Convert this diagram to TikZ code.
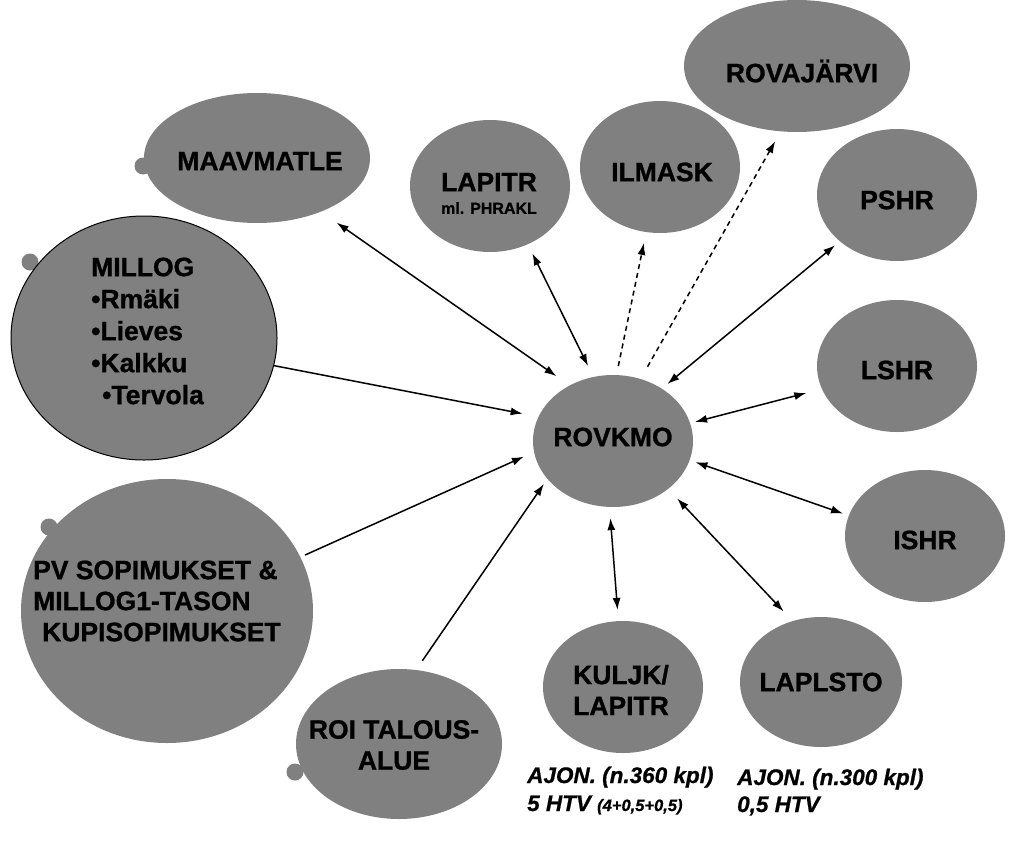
\documentclass[tikz,border=0pt]{standalone}
\usepackage{fontspec}
\setmainfont{Liberation Sans}[BoldFeatures={FakeBold=1.0},BoldItalicFeatures={FakeBold=0.8}]
\usetikzlibrary{shapes.geometric,arrows.meta}
\definecolor{blobgray}{RGB}{128,128,128}
\begin{document}
\begin{tikzpicture}[x=1pt,y=-1pt,
  blob/.style={ellipse, fill=blobgray, inner sep=0pt},
  bump/.style={circle, fill=blobgray, inner sep=0pt, minimum size=17pt},
  lbl/.style={inner sep=0pt, align=center, font=\bfseries\fontsize{26.5}{31}\selectfont},
  note/.style={inner sep=0pt, anchor=base west, font=\bfseries\itshape\fontsize{22.5}{26}\selectfont},
  conn/.style={line width=1.5pt, black},
  oneway/.style={conn, -{Latex[length=12pt,width=8pt]}},
  twoway/.style={conn, {Latex[length=12pt,width=8pt]}-{Latex[length=12pt,width=8pt]}},
  dashway/.style={oneway, dash pattern=on 5pt off 4pt}]
\fill[white] (0,0) rectangle (1024,851);
\useasboundingbox (0,0) rectangle (1024,851);

% bumps (behind)
\node[bump] (maav-b) at (143,166) {};
\node[bump] (millog-b) at (30,262) {};
\node[bump] (pv-b) at (49,527) {};
\node[bump] (roi-b) at (295,772) {};

% ellipses
\node[blob, minimum width=226pt, minimum height=130pt] (maav) at (257,158) {};
\node[blob, draw=black, line width=1pt, minimum width=266pt, minimum height=244pt] (millog) at (144,338) {};
\node[blob, minimum width=292pt, minimum height=264pt] (pv) at (167,611) {};
\node[blob, minimum width=206pt, minimum height=150pt] (roi) at (399,744) {};
\node[blob, minimum width=160pt, minimum height=132pt] (lapitr) at (490,186) {};
\node[blob, minimum width=160pt, minimum height=132pt] (ilmask) at (660,167) {};
\node[blob, minimum width=226pt, minimum height=132pt] (rovaj) at (797,66) {};
\node[blob, minimum width=160pt, minimum height=132pt] (pshr) at (897,195) {};
\node[blob, minimum width=160pt, minimum height=132pt] (lshr) at (897,366) {};
\node[blob, minimum width=160pt, minimum height=132pt] (ishr) at (925,536) {};
\node[blob, minimum width=162pt, minimum height=130pt] (laplsto) at (821,682) {};
\node[blob, minimum width=160pt, minimum height=132pt] (kuljk) at (623,687) {};
\node[blob, minimum width=160pt, minimum height=132pt] (rovkmo) at (613,441) {};

% texts
\node[lbl] (maav-t) at (260,161) {MAAVMATLE};
\node[lbl, anchor=west, align=left, font=\bfseries\fontsize{26.5}{32}\selectfont] (millog-t) at (91,331)
  {MILLOG\\•Rmäki\\•Lieves\\•Kalkku\\\hspace*{11pt}•Tervola};
\node[lbl, anchor=west, align=left] (pv-t) at (33,601)
  {PV SOPIMUKSET \&\\MILLOG1-TASON\\\hspace*{9pt}KUPISOPIMUKSET};
\node[lbl] (roi-t) at (394,745) {ROI TALOUS-\\ALUE};
\node[lbl] (lapitr-t) at (489,182) {LAPITR};
\node[lbl, font=\bfseries\fontsize{16}{19}\selectfont] (lapitr-s) at (489,208) {ml. PHRAKL};
\node[lbl] (ilmask-t) at (662,172) {ILMASK};
\node[lbl] (rovaj-t) at (802,71) {ROVAJÄRVI};
\node[lbl] (pshr-t) at (897,200) {PSHR};
\node[lbl] (lshr-t) at (897,370) {LSHR};
\node[lbl] (ishr-t) at (925,540) {ISHR};
\node[lbl] (laplsto-t) at (821,682) {LAPLSTO};
\node[lbl] (kuljk-t) at (621,690) {KULJK/\\LAPITR};
\node[lbl] (rovkmo-t) at (613,437) {ROVKMO};

\node[note] (n1a) at (527,783) {AJON. (n.360 kpl)};
\node[note] (n1b) at (527,811) {5 HTV {\fontsize{16.5}{18}\selectfont (4+0,5+0,5)}};
\node[note] (n2a) at (737,785) {AJON. (n.300 kpl)};
\node[note] (n2b) at (737,812) {0,5 HTV};

% connectors
\draw[twoway, shorten <=19pt, shorten >=16pt] (maav.-40) -- (rovkmo.128);
\draw[oneway, shorten >=16pt] (millog.-12) -- (rovkmo.162);
\draw[oneway, shorten <=5pt, shorten >=11pt] (pv.22) -- (rovkmo.188);
\draw[oneway, shorten <=11pt, shorten >=6pt] (roi.77) -- (rovkmo.210);
\draw[twoway, shorten <=10pt, shorten >=12pt] (lapitr.-57) -- (rovkmo.107.5);
\draw[dashway, shorten <=9pt, shorten >=11pt] (rovkmo.87) -- (ilmask.-102);
\draw[dashway, shorten <=14pt, shorten >=11pt] (rovkmo.66) -- (rovaj.-104);
\draw[twoway, shorten <=7pt, shorten >=6pt] (rovkmo.47) -- (pshr.219);
\draw[twoway, shorten <=5pt, shorten >=16pt] (rovkmo.13.7) -- (lshr.197);
\draw[twoway, shorten <=6pt, shorten >=6pt] (rovkmo.-14.4) -- (ishr.165.6);
\draw[twoway, shorten <=13pt, shorten >=13pt] (rovkmo.-41) -- (laplsto.115);
\draw[twoway, shorten <=11pt, shorten >=11pt] (rovkmo.-93) -- (kuljk.94.5);
\end{tikzpicture}
\end{document}
